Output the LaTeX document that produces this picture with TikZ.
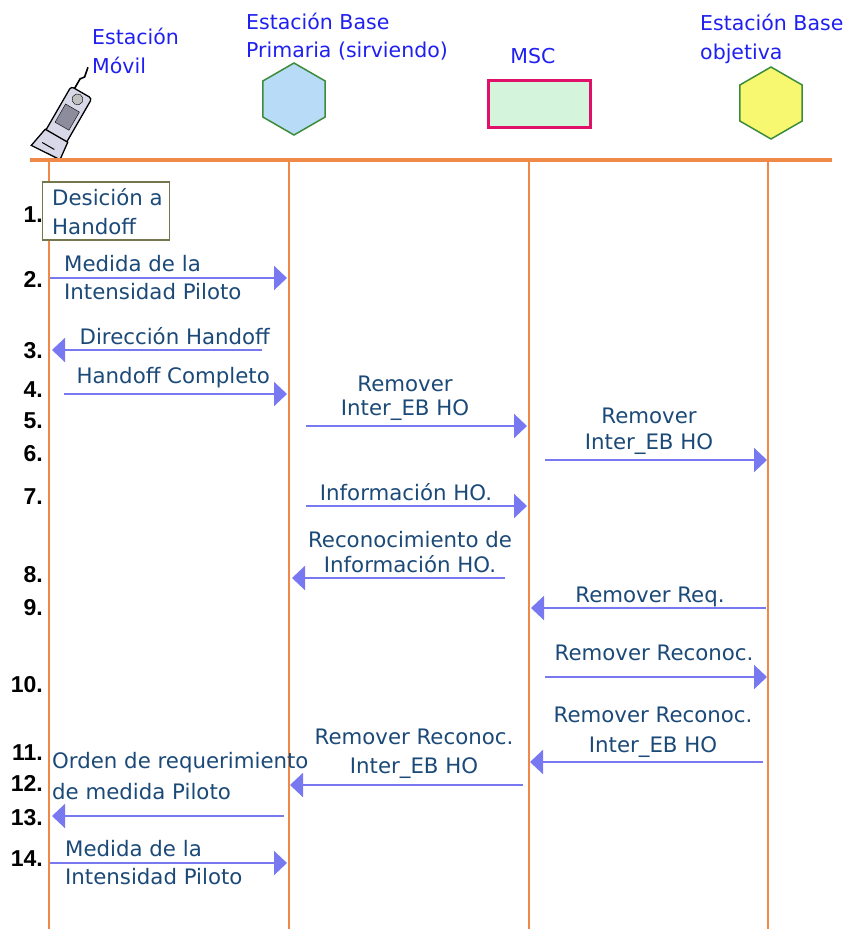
\documentclass[tikz,border=0pt]{standalone}
\usepackage{fontspec}
\setmainfont{DejaVu Sans}
\newfontfamily\numfont{Liberation Sans}
\usetikzlibrary{arrows.meta,shapes.geometric}

\begin{document}
\begin{tikzpicture}[x=1pt,y=-1pt,
  hdr/.style={text=hdrblue,font=\fontsize{20.5}{28.5}\selectfont,inner sep=0,align=left,anchor=base west},
  lbl/.style={text=msgblue,font=\fontsize{21.3}{28.5}\selectfont,inner sep=0},
  num/.style={font=\numfont\bfseries\fontsize{23}{26}\selectfont,inner sep=0,anchor=base east},
  msg/.style={draw=arrowblue,line width=2pt,-{Triangle[length=13pt,width=24pt]}},
  life/.style={draw=lifeorange,line width=1.8pt},
  bs/.style={regular polygon,regular polygon sides=6,shape border rotate=30,minimum size=72pt,inner sep=0,draw=hexgreen,line width=1.5pt}]
\definecolor{hdrblue}{HTML}{2020F0}
\definecolor{msgblue}{HTML}{1C4A78}
\definecolor{arrowblue}{HTML}{7878F0}
\definecolor{lifeorange}{HTML}{F08848}
\definecolor{hexgreen}{HTML}{3C8C3C}
\definecolor{bsblue}{HTML}{B8DCF8}
\definecolor{bsyellow}{HTML}{F8F870}
\definecolor{mscred}{HTML}{E0106A}
\definecolor{mscgreen}{HTML}{D4F4DC}
\definecolor{boxolive}{HTML}{76764E}
\definecolor{phonegray}{HTML}{D8D8E8}
\definecolor{screengray}{HTML}{8C8C9C}
\fill[white] (0,0) rectangle (855,929);
\useasboundingbox (0,0) rectangle (855,929);

% phone
\begin{scope}[shift={(65,121)},rotate=-30]
  \draw[line width=1.6pt] (-8,-31) -- (-8,-44) -- (-5,-48) -- (-7,-58);
  \draw[fill=phonegray,line width=1.3pt,rounded corners=3pt] (-12,-33) rectangle (12,30);
  \draw[fill=gray!50] (0,-25) circle (5.5);
  \draw[fill=screengray] (-8,-15) rectangle (8,6);
  \draw[fill=phonegray,line width=1.3pt] (-13,17) -- (13,17) -- (15,36) -- (-17,38) -- cycle;
  \draw[line width=1pt] (-9,30) -- (5,30);
\end{scope}

\node[hdr] (ms) at (92,73) {Estación\\[0.5pt]Móvil};
\node[hdr] (bsplbl) at (246,57) {Estación Base\\[-0.5pt]Primaria (sirviendo)};
\node[hdr,anchor=base] (msclbl) at (533,63) {MSC};
\node[hdr] (bsolbl) at (700,59) {Estación Base\\[0.5pt]objetiva};
\node[bs,fill=bsblue] (bsp) at (294,99) {};
\node[draw=mscred,fill=mscgreen,line width=3pt,minimum width=102pt,minimum height=47pt,inner sep=0] (msc) at (539,104) {};
\node[bs,fill=bsyellow] (bso) at (771,103) {};

\coordinate (tl) at (30,160);
\coordinate (tr) at (832,160);
\foreach \nm/\x in {ms/49,bsp/289,msc/529,bso/768}
  {\coordinate (\nm top) at (\x,160); \coordinate (\nm bot) at (\x,929);
   \draw[life] (\nm top) -- (\nm bot);}
\draw[life,line width=3.5pt] (tl) -- (tr);

\node[draw=boxolive,fill=white,line width=1.5pt,minimum width=127pt,minimum height=58pt,inner sep=0] (dec) at (106,211) {};
\node[lbl,align=left,anchor=base west] (dectxt) at (52,234) {Desición a\\[0.5pt]Handoff};

\foreach \n/\y in {1/222,2/287,3/358,4/397,5/428,6/461,7/504,8/582,9/615,10/692,11/760,12/791,13/825,14/866}
  \node[num] (n\n) at (43,\y) {\n.};

\foreach \n/\y/\xa/\xb in {2/278/50/287,3/350/262/52,4/394/64/287,5/426/306/527,6/460/545/767,7/506/306/527,8/578/505/292,9/608/766/531,10/677/545/767,11/762/763/530,12/785/523/290,13/816/284/52,14/863/50/287}
  {\coordinate (a\n) at (\xa,\y); \coordinate (b\n) at (\xb,\y);
   \draw[msg] (a\n) -- (b\n);}

\node[lbl,align=left,anchor=base west] (t2) at (64,299.5) {Medida de la\\Intensidad Piloto};
\node[lbl,anchor=base east] (t3) at (270,344) {Dirección Handoff};
\node[lbl,anchor=base east] (t4) at (270,383) {Handoff Completo};
\node[lbl,align=center,anchor=base] (t5) at (405,415.5) {Remover\\[-4pt]Inter\_EB HO};
\node[lbl,align=center,anchor=base] (t6) at (649,449.5) {Remover\\[-2pt]Inter\_EB HO};
\node[lbl,anchor=base] (t7) at (406,500) {Información HO.};
\node[lbl,align=center,anchor=base] (t8) at (410,572.5) {Reconocimiento de\\[-3pt]Información HO.};
\node[lbl,anchor=base] (t9) at (650,602) {Remover Req.};
\node[lbl,anchor=base] (t10) at (654,660) {Remover Reconoc.};
\node[lbl,align=center,anchor=base] (t11) at (653,752.5) {Remover Reconoc.\\[2pt]Inter\_EB HO};
\node[lbl,align=center,anchor=base] (t12) at (414,773.5) {Remover Reconoc.\\[1pt]Inter\_EB HO};
\node[lbl,align=left,anchor=base west] (t13) at (52,799.5) {Orden de requerimiento\\[3pt]de medida Piloto};
\node[lbl,align=left,anchor=base west] (t14) at (65,884.5) {Medida de la\\Intensidad Piloto};
\end{tikzpicture}
\end{document}
